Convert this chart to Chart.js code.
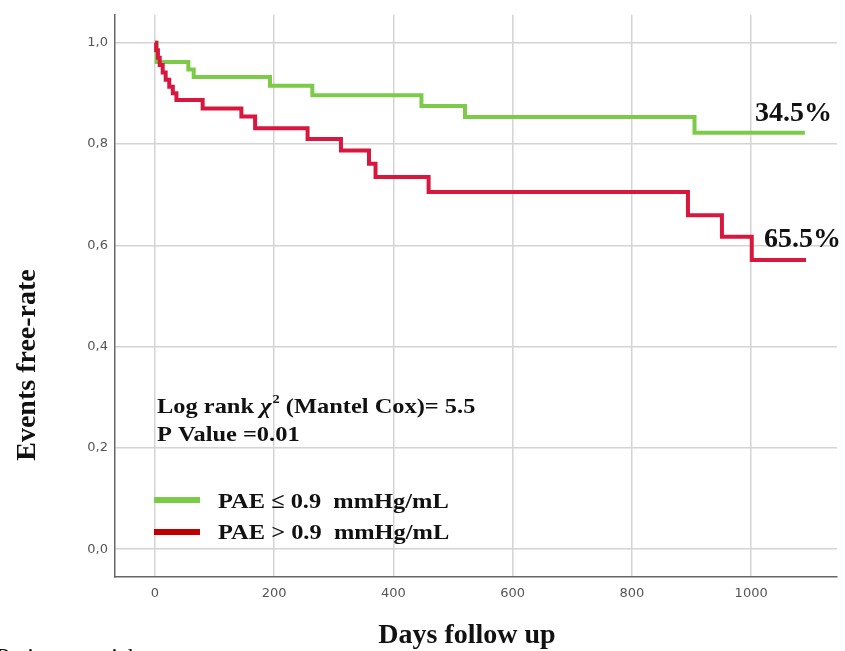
<!DOCTYPE html>
<html>
<head>
<meta charset="utf-8">
<script src="https://cdn.jsdelivr.net/npm/chart.js@4"></script>
<style>
  html, body { margin: 0; padding: 0; background: #fff; }
  #wrap { width: 845px; height: 651px; position: relative; }
</style>
</head>
<body>
<div id="wrap"><canvas id="kmChart" width="845" height="651"></canvas></div>
<script>
// Kaplan-Meier curves (day of event, survival after it)
const lowDays = [0, 3, 56, 65, 193, 264, 447, 520, 905, 1090];
const lowSurvival = [1.0, 0.962, 0.947, 0.932, 0.915, 0.896, 0.875, 0.853, 0.822, 0.822];

const highDays = [0, 2, 5, 8, 13, 18, 24, 30, 36, 80, 145, 168, 256, 312, 359, 370, 459, 894, 951, 1001, 1092];
const highSurvival = [1.0, 0.985, 0.97, 0.956, 0.941, 0.927, 0.913, 0.9, 0.887, 0.870, 0.854, 0.831, 0.810, 0.787, 0.761, 0.735, 0.705, 0.659, 0.617, 0.571, 0.571];

const xTicks = [0, 200, 400, 600, 800, 1000];
const yTicks = [0, 0.2, 0.4, 0.6, 0.8, 1.0];

const seriesLabels = ['PAE \u2264 0.9  mmHg/mL', 'PAE > 0.9  mmHg/mL'];
const endLabels = ['34.5%', '65.5%'];

const GREEN = '#7ccb48';
const RED = '#d8173f';
const LEGEND_RED = '#c00000';
const SERIF = '"Liberation Serif", "Times New Roman", serif';

function toPoints(days, vals) {
    return days.map((d, i) => ({ x: d, y: vals[i] }));
}

// text in the picture is a bit wider than the font, so stretch it sideways
function wideText(ctx, text, x, y, sx) {
    ctx.save();
    ctx.translate(x, y);
    ctx.scale(sx, 1);
    ctx.fillText(text, 0, 0);
    const w = ctx.measureText(text).width * sx;
    ctx.restore();
    return w;
}

// draws all the extra text: axis titles, test stats, legend, end labels
const textPlugin = {
    id: 'kmText',
    afterDraw(chart) {
        const ctx = chart.ctx;
        ctx.save();
        ctx.fillStyle = '#111';
        ctx.textBaseline = 'alphabetic';
        ctx.textAlign = 'left';

        // end labels next to the curves
        ctx.font = 'bold 28px ' + SERIF;
        ctx.fillText(endLabels[0], 755, 121);
        ctx.fillText(endLabels[1], 764, 247);

        // log rank text
        const SX = 1.11;
        ctx.font = 'bold 22px ' + SERIF;
        let x = 157;
        x += wideText(ctx, 'Log rank ', x, 413, SX);
        ctx.font = 'italic bold 22px ' + SERIF;
        x += wideText(ctx, '\u03C7', x, 413, SX);
        ctx.font = 'bold 13px ' + SERIF;
        x += wideText(ctx, '2', x + 1, 403, SX) + 1;
        ctx.font = 'bold 22px ' + SERIF;
        wideText(ctx, ' (Mantel Cox)= 5.5', x, 413, SX);
        wideText(ctx, 'P Value =0.01', 157, 441, SX);

        // legend
        ctx.lineWidth = 6;
        ctx.strokeStyle = GREEN;
        ctx.beginPath(); ctx.moveTo(154, 500); ctx.lineTo(200, 500); ctx.stroke();
        ctx.strokeStyle = LEGEND_RED;
        ctx.beginPath(); ctx.moveTo(154, 532); ctx.lineTo(200, 532); ctx.stroke();
        wideText(ctx, seriesLabels[0], 218, 508, SX);
        wideText(ctx, seriesLabels[1], 218, 539, SX);

        // axis titles
        ctx.font = 'bold 28px ' + SERIF;
        ctx.textAlign = 'center';
        ctx.fillText('Days follow up', 467, 643);
        ctx.save();
        ctx.translate(35, 365);
        ctx.rotate(-Math.PI / 2);
        ctx.fillText('Events free-rate', 0, 0);
        ctx.restore();

        // cut-off caption at the bottom edge
        ctx.font = '22px ' + SERIF;
        ctx.textAlign = 'left';
        ctx.textBaseline = 'top';
        wideText(ctx, 'Patients at risk', -4, 646, SX);
        ctx.restore();
    }
};

const ctx = document.getElementById('kmChart').getContext('2d');
const kmChart = new Chart(ctx, {
    type: 'line',
    data: {
        datasets: [{
            label: seriesLabels[1],
            data: toPoints(highDays, highSurvival),
            borderColor: RED,
            borderWidth: 4,
            stepped: 'before',
            pointRadius: 0,
            fill: false
        }, {
            label: seriesLabels[0],
            data: toPoints(lowDays, lowSurvival),
            borderColor: GREEN,
            borderWidth: 4,
            stepped: 'before',
            pointRadius: 0,
            fill: false
        }]
    },
    options: {
        responsive: false,
        animation: false,
        layout: { padding: { left: 0, top: 12, right: 8, bottom: 0 } },
        plugins: {
            legend: { display: false },
            tooltip: { enabled: false }
        },
        scales: {
            x: {
                type: 'linear',
                min: -67,
                max: 1144,
                afterFit(scale) { scale.height = 74; },
                afterBuildTicks(scale) { scale.ticks = xTicks.map(v => ({ value: v })); },
                grid: { color: '#d4d4d4', lineWidth: 1.5, drawTicks: false },
                border: { color: '#666', width: 1.5 },
                ticks: {
                    color: '#555',
                    padding: 9,
                    font: { family: '"DejaVu Sans", sans-serif', size: 13 },
                    callback: v => String(v)
                }
            },
            y: {
                type: 'linear',
                min: -0.055,
                max: 1.055,
                afterFit(scale) { scale.width = 115; },
                afterBuildTicks(scale) { scale.ticks = yTicks.map(v => ({ value: v })); },
                grid: { color: '#d4d4d4', lineWidth: 1.5, drawTicks: false },
                border: { color: '#666', width: 1.5 },
                ticks: {
                    color: '#555',
                    padding: 7,
                    font: { family: '"DejaVu Sans", sans-serif', size: 13 },
                    callback: v => v.toFixed(1).replace('.', ',')
                }
            }
        }
    },
    plugins: [textPlugin]
});
</script>
</body>
</html>
